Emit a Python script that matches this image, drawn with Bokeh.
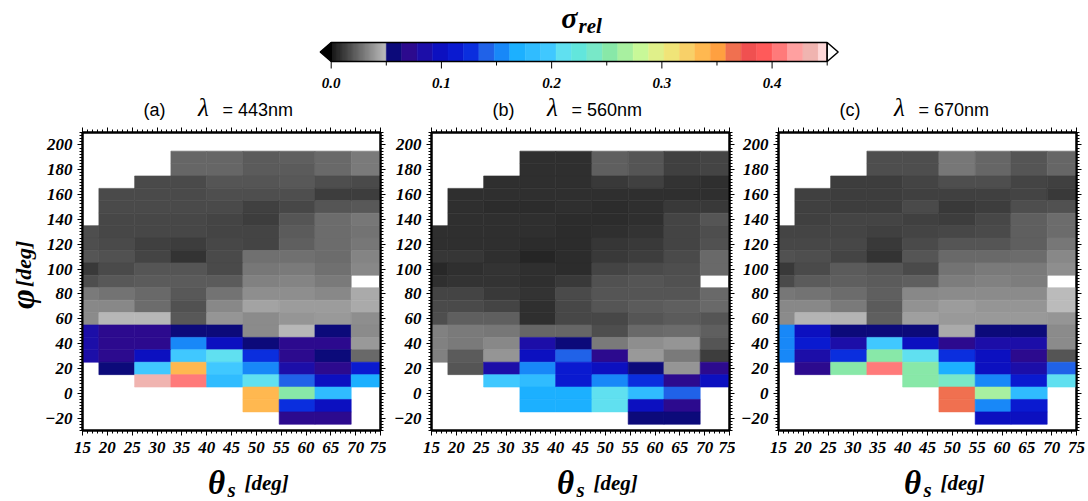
import numpy as np
from bokeh.plotting import figure
from bokeh.models import Range1d, LinearAxis, ColumnDataSource, FixedTicker, Spacer
from bokeh.layouts import column, row
from bokeh.embed import file_html
from bokeh.resources import INLINE
from bokeh.core.properties import value

N = None
# bin edges of solar zenith angle theta_s (deg) and centres of relative azimuth phi (deg)
theta_edges = [11.1, 18.3, 25.5, 32.8, 40.0, 47.3, 54.6, 61.8, 69.1, 76.3]
phi_centers = [190, 180, 170, 160, 150, 140, 130, 120, 110, 100, 90, 80, 70, 60, 50, 40, 30, 20, 10, 0, -10, -20]

# sigma_rel, rows follow phi_centers (top to bottom), columns follow theta bins
sigma_443 = [
    [N, N, N, .024, .024, .021, .022, .025, .030],
    [N, N, N, .024, .024, .021, .021, .025, .030],
    [N, N, .016, .016, .019, .019, .020, .017, .016],
    [N, .016, .016, .016, .017, .017, .017, .012, .012],
    [N, .016, .016, .016, .016, .013, .015, .019, .020],
    [N, .015, .015, .015, .014, .012, .019, .026, .029],
    [.017, .015, .015, .015, .014, .014, .021, .026, .028],
    [.017, .016, .013, .012, .015, .014, .022, .026, .029],
    [.019, .018, .014, .009, .016, .027, .027, .026, .033],
    [.011, .016, .019, .019, .016, .029, .030, .027, .034],
    [.017, .020, .021, .021, .021, .032, .033, .030, N],
    [.030, .028, .025, .020, .028, .036, .036, .034, .044],
    [.034, .034, .026, .018, .034, .042, .040, .040, .044],
    [.035, .048, .048, .020, .038, .035, .038, .039, .036],
    [.085, .071, .071, .057, .057, .035, .048, .057, .035],
    [.085, .071, .071, .155, .099, .057, .071, .071, .039],
    [.085, .071, .099, .197, .211, .127, .071, .057, .025],
    [N, .057, .197, .337, .197, .155, .085, .071, .113],
    [N, N, .435, .407, .183, .211, .141, .099, .169],
    [N, N, N, N, N, .337, .253, .183, N],
    [N, N, N, N, N, .337, .127, .099, N],
    [N, N, N, N, N, N, .071, .071, N],
]
sigma_560 = [
    [N, N, N, .008, .008, .022, .019, .013, .014],
    [N, N, N, .008, .008, .022, .019, .013, .014],
    [N, N, .008, .008, .008, .011, .013, .009, .008],
    [N, .008, .008, .008, .008, .008, .008, .008, .008],
    [N, .008, .007, .007, .008, .007, .008, .011, .011],
    [N, .008, .008, .008, .007, .007, .008, .014, .019],
    [.008, .008, .008, .008, .007, .008, .009, .014, .017],
    [.008, .008, .008, .007, .007, .010, .011, .014, .018],
    [.010, .010, .008, .005, .007, .011, .012, .016, .025],
    [.006, .008, .009, .008, .007, .014, .016, .017, .025],
    [.008, .009, .009, .008, .011, .018, .019, .018, N],
    [.014, .014, .011, .009, .016, .019, .019, .019, .025],
    [.016, .016, .014, .008, .015, .019, .021, .022, .025],
    [.017, .022, .022, .008, .015, .015, .019, .021, .019],
    [.032, .030, .029, .024, .024, .017, .025, .026, .022],
    [.032, .030, .034, .085, .057, .030, .036, .038, .019],
    [.032, .021, .038, .099, .141, .071, .039, .030, .012],
    [N, .019, .085, .155, .113, .099, .057, .038, .071],
    [N, N, .197, .183, .113, .155, .127, .071, .099],
    [N, N, N, .169, .169, .211, .183, .141, N],
    [N, N, N, .169, .169, .211, .099, .071, N],
    [N, N, N, N, N, N, .057, .057, N],
]
sigma_670 = [
    [N, N, N, .017, .017, .029, .024, .019, .024],
    [N, N, N, .017, .017, .029, .024, .019, .024],
    [N, N, .012, .012, .014, .017, .017, .014, .013],
    [N, .013, .012, .012, .013, .013, .013, .014, .011],
    [N, .013, .012, .012, .016, .011, .012, .017, .018],
    [N, .013, .014, .014, .013, .012, .015, .022, .026],
    [.014, .014, .014, .013, .014, .015, .016, .022, .026],
    [.015, .015, .015, .011, .016, .019, .019, .022, .029],
    [.018, .017, .014, .009, .019, .025, .025, .026, .034],
    [.011, .016, .021, .019, .016, .028, .030, .030, .036],
    [.016, .021, .022, .021, .022, .031, .032, .031, N],
    [.029, .028, .026, .022, .034, .035, .035, .035, .049],
    [.034, .034, .030, .021, .037, .040, .038, .038, .049],
    [.035, .047, .047, .022, .041, .039, .039, .039, .038],
    [.155, .099, .057, .057, .057, .044, .057, .057, .035],
    [.155, .113, .085, .197, .099, .071, .085, .085, .035],
    [.155, .085, .127, .253, .211, .127, .099, .071, .019],
    [N, .071, .253, .407, .253, .169, .099, .085, .141],
    [N, N, N, N, .253, .239, .155, .113, .211],
    [N, N, N, N, N, .365, .267, .183, N],
    [N, N, N, N, N, .365, .155, .113, N],
    [N, N, N, N, N, N, .099, .099, N],
]

panel_tags = ["(a)", "(b)", "(c)"]
wavelengths = ["= 443nm", "= 560nm", "= 670nm"]

# colour scale
cbar_colors = ["#0c0a7a", "#2c0a8e", "#1c0ea8", "#0c10c0", "#0a1ad0", "#0a2ede", "#2062e8", "#1888f8",
               "#1cb0ff", "#30bcff", "#40c8ff", "#60e0f0", "#62e6dc", "#78e8c8", "#88e8a8", "#a8f0a0",
               "#c8f898", "#e0f08a", "#f0e478", "#f8d068", "#ffb850", "#ffa040", "#f07050", "#f05050",
               "#ff5a5a", "#ff7a7a", "#ffa0a0", "#f0b4b0", "#ffd8d8"]
CB_GRAY_END = 0.05
CB_STEP = 0.014
CB_HIGH = 0.45
cbar_major = [0.0, 0.1, 0.2, 0.3, 0.4]
cbar_major_labels = ["0.0", "0.1", "0.2", "0.3", "0.4"]
cbar_minor = [0.05, 0.15, 0.25, 0.35, 0.45]
x_ticks = [15, 20, 25, 30, 35, 40, 45, 50, 55, 60, 65, 70, 75]
y_ticks = [-20, 0, 20, 40, 60, 80, 100, 120, 140, 160, 180, 200]


def gray_hex(v):
    L = int(round(20 + 3400 * max(v, 0.0)))
    L = min(L, 255)
    return "#%02x%02x%02x" % (L, L, L)


def sigma_color(v):
    if v < CB_GRAY_END:
        return gray_hex(v)
    if v >= CB_HIGH:
        return "#ffffff"
    k = min(int((v - CB_GRAY_END) / CB_STEP), len(cbar_colors) - 1)
    return cbar_colors[k]


SERIF = "Liberation Serif"
SANS = "Liberation Sans"
FRAME = 298
YL_W = 42                      # width of the column holding the phi label
BORDERS = [(40, 6), (45, 6), (43, 12)]   # (left, right) borders of the three panels
TOP_B, BOT_B = 6, 34
CB_H, TITLE_H = 92, 34
H_TOTAL, W_TOTAL = 501, 1088
XL_H = H_TOTAL - (CB_H + TITLE_H + TOP_B + FRAME + BOT_B)


def style_axis(ax, ticks, minor, show_labels, standoff=7):
    ax.ticker = FixedTicker(ticks=ticks, minor_ticks=minor)
    ax.axis_line_width = 2
    ax.axis_line_color = "black"
    ax.major_tick_out = 5
    ax.major_tick_in = 0
    ax.minor_tick_out = 3
    ax.minor_tick_in = 0
    ax.major_tick_line_color = "black"
    ax.minor_tick_line_color = "black"
    if show_labels:
        ax.major_label_text_font = SERIF
        ax.major_label_text_font_style = "bold italic"
        ax.major_label_text_font_size = "17px"
        ax.major_label_text_color = "black"
        ax.major_label_standoff = standoff
    else:
        ax.major_label_overrides = {t: "" for t in ticks}
        ax.major_label_text_font_size = "1px"
        ax.major_label_standoff = 0


x_minor = list(np.arange(15, 75.01, 1.0))
y_minor = list(np.arange(-30, 210.01, 2.5))


def make_panel(sig, borders):
    lb, rb = borders
    p = figure(width=lb + FRAME + rb, height=TOP_B + FRAME + BOT_B,
               x_range=Range1d(15, 75), y_range=Range1d(-30, 210),
               output_backend="svg", toolbar_location=None,
               min_border_left=lb, min_border_right=rb, min_border_top=TOP_B, min_border_bottom=BOT_B)
    p.grid.visible = False
    p.outline_line_color = "black"
    p.outline_line_width = 2
    p.background_fill_color = "white"
    style_axis(p.xaxis[0], x_ticks, x_minor, True, standoff=6)
    style_axis(p.yaxis[0], y_ticks, y_minor, True, standoff=5)
    top = LinearAxis()
    style_axis(top, x_ticks, x_minor, False)
    p.add_layout(top, "above")
    right = LinearAxis()
    style_axis(right, y_ticks, y_minor, False)
    p.add_layout(right, "right")

    left, rightx, bottom, topy, colors = [], [], [], [], []
    for i, phi in enumerate(phi_centers):
        for j in range(len(theta_edges) - 1):
            v = sig[i][j]
            if v is None:
                continue
            left.append(theta_edges[j])
            rightx.append(theta_edges[j + 1])
            bottom.append(phi - 5)
            topy.append(phi + 5)
            colors.append(sigma_color(v))
    src = ColumnDataSource(dict(left=left, right=rightx, bottom=bottom, top=topy, color=colors))
    p.quad(left="left", right="right", bottom="bottom", top="top", fill_color="color",
           line_color="color", line_width=0.6, source=src)
    return p


def text_strip(borders, height):
    lb, rb = borders
    f = figure(width=lb + FRAME + rb, height=height, x_range=Range1d(15, 75), y_range=Range1d(0, height),
               output_backend="svg", toolbar_location=None, min_border_left=lb, min_border_right=rb,
               min_border_top=0, min_border_bottom=0, x_axis_location=None, y_axis_location=None)
    f.grid.visible = False
    f.outline_line_color = None
    return f


XPP = 60.0 / FRAME


def title_strip(borders, tag, wl):
    f = text_strip(borders, TITLE_H)
    f.text(x=[15 + 61 * XPP], y=[17], text=[tag], text_font=value(SANS), text_font_size="18px",
           text_align="left", text_baseline="middle", text_color="black")
    f.text(x=[15 + 121 * XPP], y=[19], text=["\u03bb"], text_font=value(SERIF), text_font_style="italic",
           text_font_size="25px", text_align="center", text_baseline="middle", text_color="black")
    f.text(x=[15 + 140 * XPP], y=[17], text=[wl], text_font=value(SANS), text_font_size="18px",
           text_align="left", text_baseline="middle", text_color="black")
    return f


def xlabel_strip(borders):
    f = text_strip(borders, XL_H)
    f.text(x=[15 + 134 * XPP], y=[18.5], text=["\u03b8"], text_font=value(SERIF), text_font_style="bold italic",
           text_font_size="33px", text_align="center", text_baseline="middle", text_color="black")
    f.text(x=[15 + 145 * XPP], y=[12], text=["s"], text_font=value(SERIF), text_font_style="bold italic",
           text_font_size="21px", text_align="left", text_baseline="middle", text_color="black")
    f.text(x=[15 + 162 * XPP], y=[18.5], text=["[deg]"], text_font=value(SERIF), text_font_style="bold italic",
           text_font_size="21px", text_align="left", text_baseline="middle", text_color="black")
    return f


# ---- colour bar figure (x in sigma units) ----
PX_PER_UNIT = 1102.2
x0 = (0 - 330.7) / PX_PER_UNIT
cb = figure(width=W_TOTAL, height=CB_H, x_range=Range1d(x0, x0 + W_TOTAL / PX_PER_UNIT),
            y_range=Range1d(0, CB_H), output_backend="svg", toolbar_location=None, min_border=0,
            x_axis_location=None, y_axis_location=None)
cb.grid.visible = False
cb.outline_line_color = None

bar_bot, bar_top = 31, 50
g_edges = np.linspace(0.0, CB_GRAY_END, 121)
g_cols = [gray_hex(0.5 * (a + b)) for a, b in zip(g_edges[:-1], g_edges[1:])]
g_right = list(g_edges[1:] + 0.0006)
g_right[-1] = CB_GRAY_END
cb.quad(left=g_edges[:-1], right=g_right, bottom=bar_bot, top=bar_top,
        fill_color=g_cols, line_color=None)
c_left = [CB_GRAY_END + k * CB_STEP for k in range(len(cbar_colors))]
c_right = [min(l + CB_STEP, CB_HIGH) for l in c_left]
cb.quad(left=c_left, right=c_right, bottom=bar_bot, top=bar_top, fill_color=cbar_colors,
        line_color=cbar_colors, line_width=0.5)
cb.quad(left=[0.0], right=[CB_HIGH], bottom=bar_bot, top=bar_top, fill_color=None,
        line_color="black", line_width=1.5)
tri = 11 / PX_PER_UNIT
mid = 0.5 * (bar_bot + bar_top)
cb.patch([0.0, -tri, 0.0], [bar_top, mid, bar_bot], fill_color="black", line_color="black", line_width=1.5)
cb.patch([CB_HIGH, CB_HIGH + tri, CB_HIGH], [bar_top, mid, bar_bot], fill_color="white",
         line_color="black", line_width=1.5)
cb.segment(x0=cbar_major, y0=bar_bot, x1=cbar_major, y1=bar_bot - 7, line_color="black", line_width=1)
cb.segment(x0=cbar_minor, y0=bar_bot, x1=cbar_minor, y1=bar_bot - 4, line_color="black", line_width=1)
cb.text(x=cbar_major, y=[10] * len(cbar_major), text=cbar_major_labels, text_font=value(SERIF),
        text_font_style="bold italic", text_font_size="15px", text_align="center",
        text_baseline="middle", text_color="black")
sx = (577 - 330.7) / PX_PER_UNIT
cb.text(x=[sx], y=[75], text=["\u03c3"], text_font=value(SERIF), text_font_style="bold italic",
        text_font_size="30px", text_align="right", text_baseline="middle", text_color="black")
cb.text(x=[sx + 1 / PX_PER_UNIT], y=[67], text=["rel"], text_font=value(SERIF), text_font_style="bold italic",
        text_font_size="21px", text_align="left", text_baseline="middle", text_color="black")

# ---- phi label column ----
PANEL_H = TOP_B + FRAME + BOT_B
yl = figure(width=YL_W, height=PANEL_H, x_range=Range1d(0, YL_W), y_range=Range1d(0, PANEL_H),
            output_backend="svg", toolbar_location=None, min_border=0,
            x_axis_location=None, y_axis_location=None)
yl.grid.visible = False
yl.outline_line_color = None
yl.text(x=[22], y=[PANEL_H - 189], text=["\u03c6"], text_font=value(SERIF), text_font_style="bold italic",
        text_font_size="34px", angle=np.pi / 2, text_align="center", text_baseline="middle", text_color="black")
yl.text(x=[23], y=[PANEL_H - 149], text=["[deg]"], text_font=value(SERIF), text_font_style="bold italic",
        text_font_size="22px", angle=np.pi / 2, text_align="center", text_baseline="middle", text_color="black")

sigmas = [sigma_443, sigma_560, sigma_670]
panels = [make_panel(s, b) for s, b in zip(sigmas, BORDERS)]
titles = [title_strip(b, t, w) for b, t, w in zip(BORDERS, panel_tags, wavelengths)]
xlabels = [xlabel_strip(b) for b in BORDERS]

layout = column(
    cb,
    row(Spacer(width=YL_W, height=TITLE_H), *titles, spacing=0),
    row(yl, *panels, spacing=0),
    row(Spacer(width=YL_W, height=XL_H), *xlabels, spacing=0),
    spacing=0,
)
open("out.html", "w").write(file_html(layout, INLINE))
